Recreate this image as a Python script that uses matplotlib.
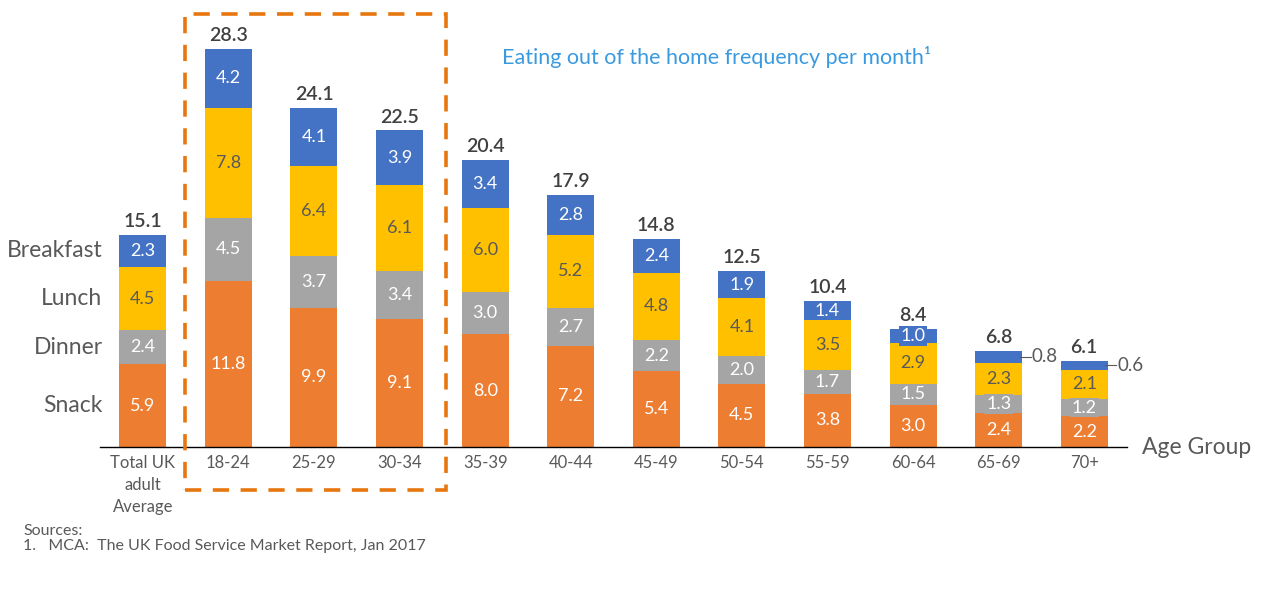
import matplotlib.pyplot as plt
from matplotlib.patches import Rectangle

plt.rcParams['font.family'] = ['Lato', 'DejaVu Sans']

groups = ['Total UK\nadult\nAverage', '18-24', '25-29', '30-34', '35-39', '40-44',
          '45-49', '50-54', '55-59', '60-64', '65-69', '70+']
snack = [5.9, 11.8, 9.9, 9.1, 8.0, 7.2, 5.4, 4.5, 3.8, 3.0, 2.4, 2.2]
dinner = [2.4, 4.5, 3.7, 3.4, 3.0, 2.7, 2.2, 2.0, 1.7, 1.5, 1.3, 1.2]
lunch = [4.5, 7.8, 6.4, 6.1, 6.0, 5.2, 4.8, 4.1, 3.5, 2.9, 2.3, 2.1]
breakfast = [2.3, 4.2, 4.1, 3.9, 3.4, 2.8, 2.4, 1.9, 1.4, 1.0, 0.8, 0.6]
totals = [15.1, 28.3, 24.1, 22.5, 20.4, 17.9, 14.8, 12.5, 10.4, 8.4, 6.8, 6.1]

series = [('Snack', snack, '#ED7D31', 'white'),
          ('Dinner', dinner, '#A5A5A5', 'white'),
          ('Lunch', lunch, '#FFC000', '#595959'),
          ('Breakfast', breakfast, '#4472C4', 'white')]

fig = plt.figure(figsize=(12.63, 5.96), dpi=100)
ax = fig.add_axes([100 / 1263, 149 / 596, 1027 / 1263, 422 / 596])
ax.set_xlim(-0.5, 11.5)
ax.set_ylim(0, 30)

x = list(range(len(groups)))
w = 0.55
bottom = [0.0] * len(groups)
for name, vals, col, tcol in series:
    ax.bar(x, vals, w, bottom=bottom, color=col, zorder=2)
    for i, v in enumerate(vals):
        yc = bottom[i] + v / 2
        if v < 0.9:
            # label outside with a small leader line
            ax.plot([i + w / 2 - 0.03, i + w / 2 + 0.1], [yc, yc], color='#595959', lw=0.8,
                    clip_on=False)
            ax.text(i + w / 2 + 0.11, yc, f'{v:.1f}', ha='left', va='center',
                    fontsize=13.5, color='#595959')
        else:
            ax.text(i, yc, f'{v:.1f}', ha='center', va='center', fontsize=13, color=tcol,
                    bbox=dict(boxstyle='square,pad=0.1', fc=col, ec='none'), zorder=3)
    # left-hand legend next to the first bar
    ax.text(-0.47, bottom[0] + vals[0] / 2, name, ha='right', va='center',
            fontsize=16.5, color='#595959', clip_on=False)
    bottom = [b + v for b, v in zip(bottom, vals)]

for i, t in enumerate(totals):
    ax.text(i, t + 0.35, f'{t:.1f}', ha='center', va='bottom', fontsize=14,
            fontweight='semibold', color='#404040')

ax.set_xticks(x)
ax.set_xticklabels(groups, fontsize=12, color='#595959', linespacing=1.45)
ax.tick_params(axis='x', length=0, pad=6)
ax.set_yticks([])
for s in ['top', 'right', 'left']:
    ax.spines[s].set_visible(False)
ax.spines['bottom'].set_color('black')
ax.spines['bottom'].set_linewidth(1)

ax.text(11.67, 0, 'Age Group', ha='left', va='center', fontsize=16.5, color='#595959',
        clip_on=False)

fig.text(716 / 1263, 1 - 57 / 596, 'Eating out of the home frequency per month\u00b9',
         ha='center', va='center', fontsize=15.5, color='#3A9AE0')

# dashed highlight box around the 18-34 age groups
fig.patches.append(Rectangle((185 / 1263, 1 - 490 / 596), 261 / 1263, 476 / 596,
                             transform=fig.transFigure, fill=False, ec='#E7760F',
                             lw=2.6, ls=(0, (4.5, 3.2))))

fig.text(23 / 1263, 1 - 531 / 596, 'Sources:', ha='left', va='center', fontsize=11.5,
         color='#595959')
fig.text(23 / 1263, 1 - 546 / 596, '1.   MCA:  The UK Food Service Market Report, Jan 2017',
         ha='left', va='center', fontsize=11.5, color='#595959')

fig.savefig('out.png', dpi=100)
